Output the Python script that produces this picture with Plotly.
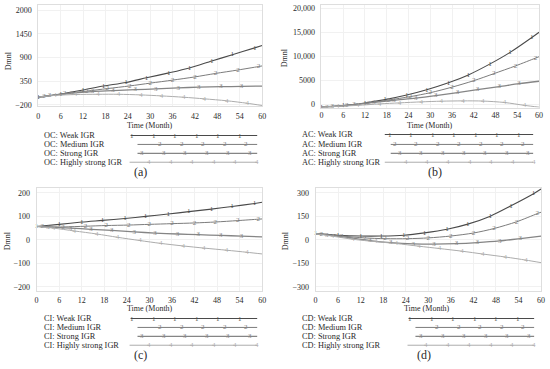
import plotly.graph_objects as go

# ---------------- data ----------------
MONTHS_WEAK = [0, 6, 12, 17.5, 23.5, 29, 35, 40.5, 46.5, 52, 58, 60]
MONTHS_MEDIUM = [0, 1.5, 7, 13, 18.5, 24.5, 30, 36, 42, 47.5, 53.5, 59, 60]
MONTHS_STRONG = [0, 3, 9, 14.5, 20, 26, 31.5, 37.5, 43, 49, 54.5, 60]
MONTHS_HIGH = [0, 4.5, 10, 16, 21.5, 27.5, 33, 39, 44.5, 50.5, 56, 60]

SCENARIOS = ["Weak IGR", "Medium IGR", "Strong IGR", "Highly strong IGR"]
INDICATORS = ["OC", "AC", "CI", "CD"]
PANEL_LABELS = ["(a)", "(b)", "(c)", "(d)"]
X_TICKS = [0, 6, 12, 18, 24, 30, 36, 42, 48, 54, 60]

OC_WEAK = [-20, 53, 146, 237, 320, 429, 544, 659, 820, 965, 1125, 1180]
OC_MEDIUM = [-20, -10, 62, 120, 178, 240, 305, 375, 450, 530, 610, 690, 705]
OC_STRONG = [-20, 15, 75, 110, 130, 152, 172, 195, 210, 222, 230, 237]
OC_HIGH = [-20, 20, 40, 46, 46, 31, 8, -23, -60, -105, -163, -215]

AC_WEAK = [-600, -300, 250, 950, 1900, 3000, 4450, 6100, 8400, 10800, 13900, 15000]
AC_MEDIUM = [-600, -560, -230, 290, 870, 1570, 2390, 3550, 4900, 6350, 7980, 9600, 9900]
AC_STRONG = [-600, -480, -100, 360, 820, 1270, 1790, 2420, 3040, 3660, 4280, 4780]
AC_HIGH = [-600, -440, -250, 60, 270, 480, 620, 690, 650, 350, -250, -620]

CI_WEAK = [57, 66, 76, 83, 91, 100, 110, 120, 131, 142, 155, 160]
CI_MEDIUM = [57, 56, 55, 58, 61, 63, 66, 69, 72, 76, 82, 88, 89]
CI_STRONG = [57, 55, 50, 45, 40, 34, 29, 25, 22, 19, 16, 13]
CI_HIGH = [57, 50, 38, 25, 11, -3, -15, -26, -35, -44, -53, -60]

CD_WEAK = [40, 30, 25, 25, 30, 45, 68, 101, 152, 218, 295, 325]
CD_MEDIUM = [40, 37, 25, 13, 8, 8, 13, 25, 44, 73, 116, 168, 177]
CD_STRONG = [40, 33, 14, -4, -17, -25, -27, -24, -17, -6, 9, 25]
CD_HIGH = [40, 24, 4, -11, -23, -40, -55, -72, -90, -109, -129, -145]

Y_TICKS_A = [-200, 350, 900, 1450, 2000]
Y_TICKS_B = [0, 5000, 10000, 15000, 20000]
Y_TICKTEXT_B = ["0", "5000", "10,000", "15,000", "20,000"]
Y_TICKS_C = [-200, -100, 0, 100, 200]
Y_TICKS_D = [-300, -150, 0, 150, 300]

MONTHS = [MONTHS_WEAK, MONTHS_MEDIUM, MONTHS_STRONG, MONTHS_HIGH]
PANEL_DATA = [
    [OC_WEAK, OC_MEDIUM, OC_STRONG, OC_HIGH],
    [AC_WEAK, AC_MEDIUM, AC_STRONG, AC_HIGH],
    [CI_WEAK, CI_MEDIUM, CI_STRONG, CI_HIGH],
    [CD_WEAK, CD_MEDIUM, CD_STRONG, CD_HIGH],
]

# ---------------- style / layout ----------------
W, H = 550, 369
FONT = "Liberation Serif, Times New Roman, serif"
TEXT_COLOR = "#2a2a2a"
COLORS = ["#4a4a4a", "#7c7c7c", "#858585", "#acacac"]
WIDTHS = [1.1, 1.0, 1.3, 1.0]
MARKS = ["1", "2", "3", "4"]


def px(x):
    return x / W


def py(y):
    return 1 - y / H


# plot area pixel boxes: (left, right, top, bottom), y range, ticks, x-label standoff
PANELS = [
    dict(box=(36.7, 263, 4.1, 106.3), yr=[-230, 2120], tv=Y_TICKS_A, tt=None, xs=2),
    dict(box=(323, 543, 3.9, 107.7), yr=[-700, 20700], tv=Y_TICKS_B, tt=Y_TICKTEXT_B, xs=0),
    dict(box=(35, 263, 189, 293), yr=[-217, 221], tv=Y_TICKS_C, tt=None, xs=2),
    dict(box=(317, 545, 189, 293), yr=[-325, 332], tv=Y_TICKS_D, tt=None, xs=2),
]
TITLE_POS = [(150, 125.5), (433, 125.5), (150, 310.5), (430, 310.5)]
DMNL_POS = [(6, 60), (285, 57), (5, 242), (287, 242)]
LABEL_POS = [(140, 173), (438, 173), (140, 358), (427, 358)]
LEG_TEXT_X = [41, 302, 41, 302]
LEG_ROWS = [[136, 145, 154, 163], [135, 145, 154, 163],
            [321, 330, 339, 348], [321, 330, 339, 348]]
# per panel, per series: (line start, line end, first mark, count)
LEG_LINES = [
    [(130, 258, 131.7, 6), (137, 258, 160, 5), (137, 258, 142, 6), (129, 258, 149, 6)],
    [(387, 537, 392, 7), (393, 537, 397, 7), (393, 537, 402, 7), (387, 537, 408, 7)],
    [(130, 258, 131.7, 6), (137, 258, 160, 5), (137, 258, 142, 6), (129, 258, 149, 6)],
    [(411, 538, 413, 6), (418, 538, 440, 5), (418, 538, 424, 6), (410, 538, 429, 6)],
]
LEG_STEP = 21.7

fig = go.Figure()
layout = dict(
    width=W, height=H, margin=dict(l=0, r=0, t=0, b=0),
    paper_bgcolor="white", plot_bgcolor="white", showlegend=False,
    font=dict(family=FONT, size=8, color=TEXT_COLOR),
)
annotations = []
shapes = []

for p, panel in enumerate(PANELS):
    xa = "x" if p == 0 else f"x{p+1}"
    ya = "y" if p == 0 else f"y{p+1}"
    l, r, t, b = panel["box"]
    for s in range(4):
        xs = MONTHS[s]
        ys = PANEL_DATA[p][s]
        txt = []
        for i, x in enumerate(xs):
            if x < 60 and (x > 0 or s == 0):
                txt.append(MARKS[s])
            else:
                txt.append("")
        fig.add_trace(go.Scatter(
            x=xs, y=ys, mode="lines+text", text=txt,
            textposition="middle center",
            textfont=dict(family=FONT, size=7, color=COLORS[s]),
            line=dict(color=COLORS[s], width=WIDTHS[s], shape="spline", smoothing=0.8),
            xaxis=xa, yaxis=ya, hoverinfo="skip", cliponaxis=False,
        ))
    axkey_x = "xaxis" if p == 0 else f"xaxis{p+1}"
    axkey_y = "yaxis" if p == 0 else f"yaxis{p+1}"
    layout[axkey_x] = dict(
        domain=[px(l), px(r)], range=[0, 60], anchor=ya,
        tickvals=X_TICKS, ticks="", showline=True, mirror=True,
        linecolor="#dedede", linewidth=1, showgrid=True, gridcolor="#f1f1f1",
        zeroline=False, tickfont=dict(family=FONT, size=8, color=TEXT_COLOR),
        ticklabelstandoff=panel["xs"],
    )
    yax = dict(
        domain=[py(b), py(t)], range=panel["yr"], anchor=xa,
        tickvals=panel["tv"], ticks="", showline=True, mirror=True,
        linecolor="#dedede", linewidth=1, showgrid=True, gridcolor="#f1f1f1",
        zeroline=False, tickfont=dict(family=FONT, size=8, color=TEXT_COLOR),
        ticklabelstandoff=4,
    )
    if panel["tt"] is not None:
        yax["ticktext"] = panel["tt"]
    layout[axkey_y] = yax

    # axis titles
    tx, ty = TITLE_POS[p]
    annotations.append(dict(x=px(tx), y=py(ty), xref="paper", yref="paper",
                            text="Time (Month)", showarrow=False, borderpad=0,
                            font=dict(family=FONT, size=8, color=TEXT_COLOR),
                            xanchor="center", yanchor="middle"))
    dx, dy = DMNL_POS[p]
    annotations.append(dict(x=px(dx), y=py(dy), xref="paper", yref="paper",
                            text="Dmnl", showarrow=False, textangle=-90, borderpad=0,
                            font=dict(family=FONT, size=8, color=TEXT_COLOR),
                            xanchor="center", yanchor="middle"))
    lx, ly = LABEL_POS[p]
    annotations.append(dict(x=px(lx), y=py(ly), xref="paper", yref="paper",
                            text=PANEL_LABELS[p], showarrow=False, borderpad=0,
                            font=dict(family=FONT, size=12, color=TEXT_COLOR),
                            xanchor="center", yanchor="middle"))
    # legend
    for s in range(4):
        rowy = LEG_ROWS[p][s]
        annotations.append(dict(x=px(LEG_TEXT_X[p]), y=py(rowy), xref="paper", yref="paper",
                                text=f"{INDICATORS[p]}: {SCENARIOS[s]}", showarrow=False,
                                borderpad=0,
                                font=dict(family=FONT, size=8.3, color=TEXT_COLOR),
                                xanchor="left", yanchor="middle"))
        x0, x1, m0, cnt = LEG_LINES[p][s]
        shapes.append(dict(type="line", xref="paper", yref="paper",
                           x0=px(x0), x1=px(x1), y0=py(rowy), y1=py(rowy),
                           line=dict(color=COLORS[s], width=WIDTHS[s])))
        for k in range(cnt):
            annotations.append(dict(x=px(m0 + k * LEG_STEP), y=py(rowy), xref="paper", yref="paper",
                                    text=MARKS[s], showarrow=False, borderpad=0,
                                    font=dict(family=FONT, size=7, color=COLORS[s]),
                                    xanchor="center", yanchor="middle"))

layout["annotations"] = annotations
layout["shapes"] = shapes
fig.update_layout(**layout)
fig.write_html("out.html", config={"displayModeBar": False},
               post_script="document.body.style.margin='0px';")
